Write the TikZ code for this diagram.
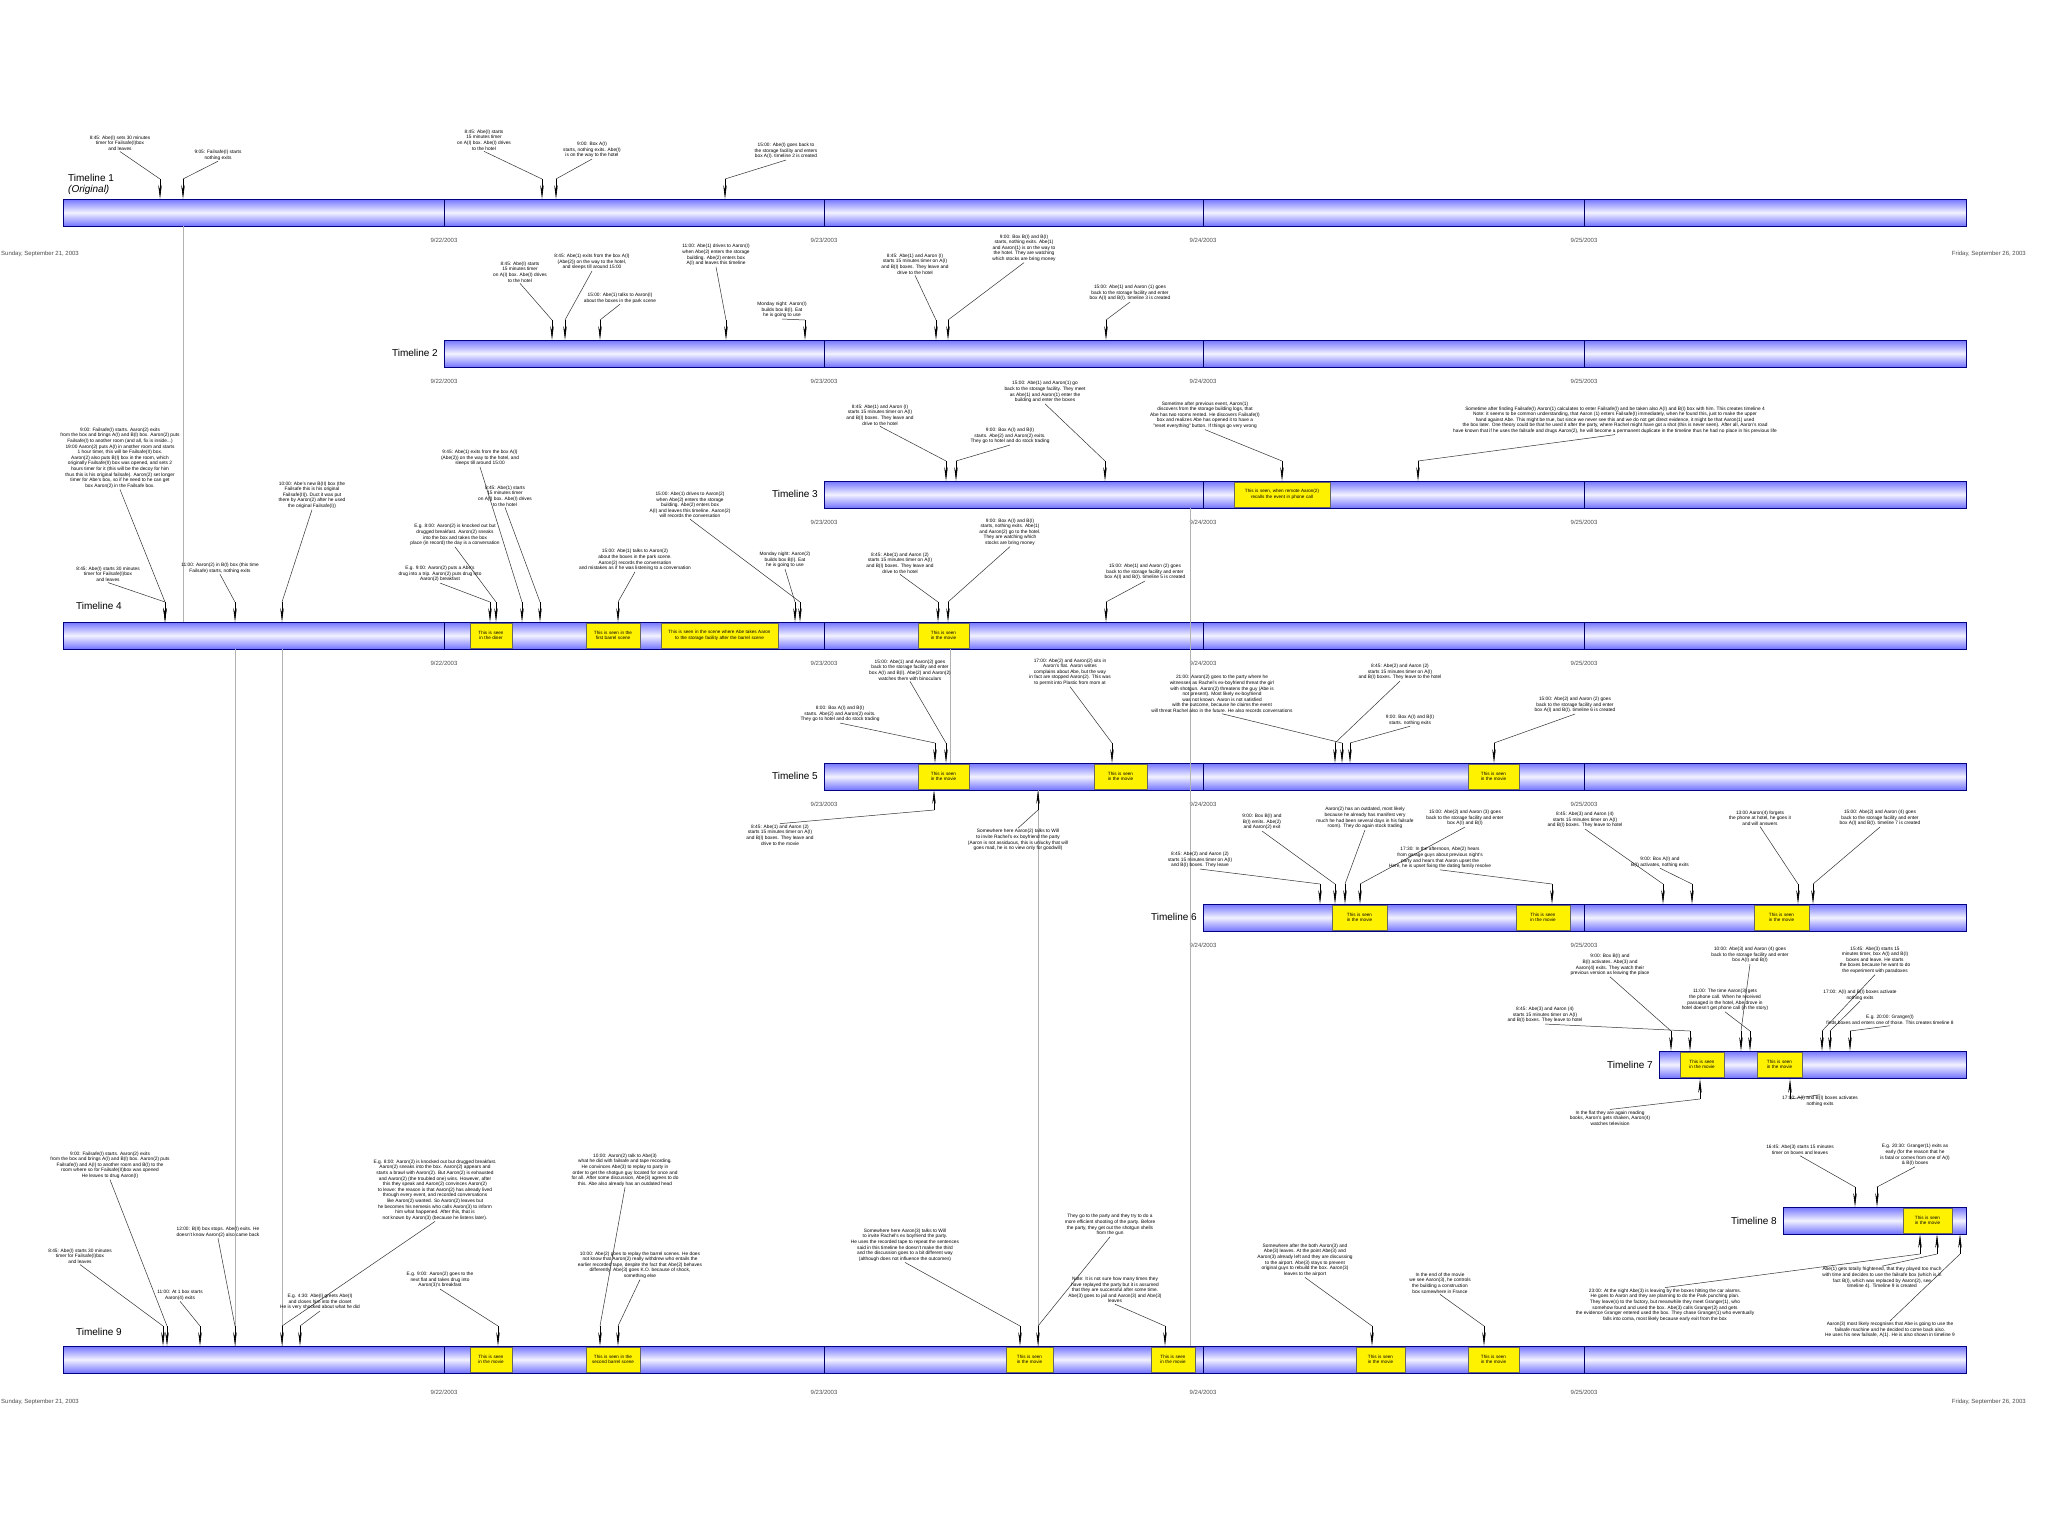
\documentclass[tikz,border=0pt]{standalone}
\usepackage{fontspec}
\setmainfont{Liberation Sans}
\usetikzlibrary{arrows.meta}
\begin{document}
\begin{tikzpicture}[x=1pt,y=-1pt,
  ann/.style={font=\fontsize{4.8}{5.6}\selectfont,align=center,inner sep=1pt},
  tlname/.style={font=\fontsize{10}{11}\selectfont,anchor=east,inner sep=2pt},
  datel/.style={font=\fontsize{6}{7}\selectfont,text=black!70,inner sep=1pt},
  seen/.style={draw=black!60,fill=yellow,font=\fontsize{4.6}{5.4}\selectfont,align=center,inner sep=0pt},
  lead/.style={draw=black!80,line width=0.5pt},
  tip/.style={-{Stealth[length=14pt,width=3.5pt]},line width=0.6pt},
  guide/.style={draw=black!30,line width=0.5pt}]
\useasboundingbox (0,0) rectangle (2048,1536);
\fill[white] (0,0) rectangle (2048,1536);
\newcommand{\tline}[3]{%
  \shade[top color=blue!55!white,bottom color=blue!55!white,middle color=blue!5!white]
    (#3,#2) rectangle (1966,#2+27);
  \draw[blue!50!black,line width=0.7pt] (#3,#2) rectangle (1966,#2+27);
  \coordinate (#1) at (#3,#2);
  \foreach \d in {444,824,1203,1584}{\ifdim\d pt>#3pt \draw[blue!40!black,line width=0.6pt] (\d,#2) -- (\d,#2+27);\fi}}
\newcommand{\seenbox}[5]{\pgfmathsetmacro\sbw{#3-#2}\pgfmathsetmacro\sbt{#3-#2-4}%
  \node[seen,minimum width=\sbw pt,minimum height=25pt,text width=\sbt pt] (#1) at ({(#2+#3)/2},#4+13.5) {#5};}
% ---------- timelines
\tline{t1}{199}{63}
\tline{t2}{340}{444}
\tline{t3}{481}{824}
\tline{t4}{622}{63}
\tline{t5}{763}{824}
\tline{t6}{904}{1203}
\tline{t7}{1051}{1659}
\tline{t8}{1207}{1783}
\tline{t9}{1346}{63}
\node[tlname,align=left,anchor=south west] (n1) at (66,197) {Timeline 1\\\textit{(Original)}};
\node[tlname] (n2) at (440,353) {Timeline 2};
\node[tlname] (n3) at (820,494) {Timeline 3};
\node[tlname] (n4) at (124,606) {Timeline 4};
\node[tlname] (n5) at (820,776) {Timeline 5};
\node[tlname] (n6) at (1199,917) {Timeline 6};
\node[tlname] (n7) at (1655,1065) {Timeline 7};
\node[tlname] (n8) at (1779,1221) {Timeline 8};
\node[tlname] (n9) at (124,1332) {Timeline 9};
% ---------- dates
\node[datel,anchor=west] (s1) at (0,254) {Sunday, September 21, 2003};
\node[datel,anchor=east] (f1) at (2027,254) {Friday, September 26, 2003};
\node[datel,anchor=west] (s9) at (0,1402) {Sunday, September 21, 2003};
\node[datel,anchor=east] (f9) at (2027,1402) {Friday, September 26, 2003};
\foreach \yy/\xs in {240/444,381/444,522/824,663/444,804/824,945/1203,1392/444}{
  \foreach \d/\t in {444/9\slash22\slash2003,824/9\slash23\slash2003,1203/9\slash24\slash2003,1584/9\slash25\slash2003}{
    \ifdim\d pt<\xs pt\else\node[datel] at (\d,\yy) {\t};\fi}}
% ---------- seen boxes
\seenbox{y3a}{1234}{1330}{481}{This is seen, when remote Aaron(2) recalls the event in phone call}
\seenbox{y4a}{470}{512}{622}{This is seen in the diner}
\seenbox{y4b}{586}{640}{622}{This is seen in the first barrel scene}
\seenbox{y4c}{661}{778}{622}{This is seen in the scene where Abe takes Aaron to the storage facility after the barrel scene}
\seenbox{y4d}{918}{969}{622}{This is seen in the movie}
\seenbox{y5a}{918}{969}{763}{This is seen in the movie}
\seenbox{y5b}{1094}{1147}{763}{This is seen in the movie}
\seenbox{y5c}{1468}{1519}{763}{This is seen in the movie}
\seenbox{y6a}{1332}{1387}{904}{This is seen in the movie}
\seenbox{y6b}{1516}{1570}{904}{This is seen in the movie}
\seenbox{y6c}{1754}{1809}{904}{This is seen in the movie}
\seenbox{y7a}{1680}{1724}{1051}{This is seen in the movie}
\seenbox{y7b}{1757}{1802}{1051}{This is seen in the movie}
\seenbox{y8a}{1903}{1952}{1207}{This is seen in the movie}
\seenbox{y9a}{470}{512}{1346}{This is seen in the movie}
\seenbox{y9b}{586}{640}{1346}{This is seen in the second barrel scene}
\seenbox{y9c}{1006}{1053}{1346}{This is seen in the movie}
\seenbox{y9d}{1151}{1195}{1346}{This is seen in the movie}
\seenbox{y9e}{1356}{1405}{1346}{This is seen in the movie}
\seenbox{y9f}{1468}{1519}{1346}{This is seen in the movie}
% ---------- guide lines between timelines
\draw[guide] (183,226) -- (183,622);
\draw[guide] (235,649) -- (235,1346);
\draw[guide] (282,649) -- (282,1346);
\draw[guide] (1038,790) -- (1038,1346);
\draw[guide] (1190,508) -- (1190,1346);
\draw[guide] (950,649) -- (950,763);
% ---------- annotations
\foreach \nm/\ax/\ay/\tx/\bt/\txt in {
 a1/120/143/160/199/{8:45: Abe(I) sets 30 minutes\\timer for Failsafe(I)box\\and leaves},
 a2/218/155/183/199/{9:05: Failsafe(I) starts\\nothing exits},
 a3/484/140/542/199/{8:45: Abe(I) starts\\15 minutes timer\\on A(I) box. Abe(I) drives\\to the hotel},
 a4/592/150/556/199/{9:00: Box A(I)\\starts, nothing exits. Abe(I)\\is on the way to the hotel},
 a5/786/151/725/199/{15:00: Abe(I) goes back to\\the storage facility and enters\\box A(I). timeline 2 is created},
 a6/520/272/552/340/{8:45: Abe(I) starts\\15 minutes timer\\on A(I) box. Abe(I) drives\\to the hotel},
 a7/592/262/565/340/{8:45: Abe(1) exits from the box A(I)\\(Abe(2)) on the way to the hotel,\\and sleeps till around 15:00},
 a8/620/298/600/340/{15:00: Abe(1) talks to Aaron(I)\\about the boxes in the park scene},
 a9/716/255/726/340/{11:00: Abe(1) drives to Aaron(I)\\when Abe(2) enters the storage\\building. Abe(2) enters box\\A(I) and leaves this timeline},
 a10/782/310/805/340/{Monday night: Aaron(I)\\builds box B(I). Eat\\he is going to use},
 a11/915/264/936/340/{8:45: Abe(1) and Aaron (I)\\starts 15 minutes timer on A(I)\\and B(I) boxes. They leave and\\drive to the hotel},
 a12/1024/248/948/340/{9:00: Box B(I) and B(I)\\starts, nothing exits. Abe(1)\\and Aaron(1) is on the way to\\the hotel. They are watching\\which stocks are bring money},
 a13/1130/293/1106/340/{15:00: Abe(1) and Aaron (1) goes\\back to the storage facility and enter\\box A(I) and B(I). timeline 3 is created},
 a14/880/415/946/481/{8:45: Abe(1) and Aaron (I)\\starts 15 minutes timer on A(I)\\and B(I) boxes. They leave and\\drive to the hotel},
 a15/1010/436/956/481/{9:00: Box A(I) and B(I)\\starts. Abe(2) and Aaron(2) exits.\\They go to hotel and do stock trading},
 a16/1045/392/1105/481/{15:00: Abe(1) and Aaron(1) go\\back to the storage facility. They meet\\as Abe(1) and Aaron(1) enter the\\building and enter the boxes},
 a17/1205/415/1282/481/{Sometime after previous event, Aaron(1)\\discovers from the storage building logs, that\\Abe has two rooms rented. He discovers Failsafe(I)\\box and realizes Abe has opened it to have a\\"reset everything" button. If things go very wrong},
 a18/1615/420/1418/481/{Sometime after finding Failsafe(I) Aaron(1) calculates to enter Failsafe(I) and be taken also A(I) and B(I) box with him. This creates timeline 4\\Note: it seems to be common understanding, that Aaron (1) enters Failsafe(I) immediately, when he found this, just to make the upper\\hand against Abe. This might be true, but since we never see this and we do not get direct evidence, it might be that Aaron(1) used\\the box later. One theory could be that he used it after the party, where Rachel might have got a shot (this is never seen). After all, Aaron's road\\have known that if he uses the failsafe and drugs Aaron(2), he will become a permanent duplicate in the timeline thus he had no place in his previous life},
 b1/120/458/165/622/{9:00: Failsafe(I) starts. Aaron(2) exits\\from the box and brings A(I) and B(I) box. Aaron(2) puts\\Failsafe(I) to another room (and all, fix is inside...)\\19:00 Aaron(2) puts A(I) in another room and starts\\1 hour timer, this will be Failsafe(II) box.\\Aaron(2) also puts B(I) box in the room, which\\originally Failsafe(II) box was opened, and sets 2\\hours timer for it (this will be the decoy for him\\thus this is his original failsafe). Aaron(2) set longer\\timer for Abe's box, so if he need to he can get\\box Aaron(2) in the Failsafe box.},
 b2/108/574/165/622/{8:45: Abe(I) starts 30 minutes\\timer for Failsafe(I)box\\and leaves},
 b3/220/568/235/622/{11:00: Aaron(2) in B(I) box (this time\\Failsafe) starts, nothing exits},
 b4/312/495/282/622/{10:00: Abe's new B(II) box (the\\Failsafe this is his original\\Failsafe(II)). Duct it was put\\there by Aaron(2) after he used\\the original Failsafe(I))},
 b5/480/458/522/622/{9:45: Abe(1) exits from the box A(I)\\(Abe(2)) on the way to the hotel, and\\sleeps till around 15:00},
 b6/505/496/540/622/{8:45: Abe(1) starts\\15 minutes timer\\on A(I) box. Abe(I) drives\\to the hotel},
 b7/455/535/496/622/{E.g. 8:00: Aaron(2) is knocked out but\\drugged breakfast. Aaron(2) sneaks\\into the box and takes the box\\place (in record) the day is a conversation},
 b8/440/574/490/622/{E.g. 9:00: Aaron(2) puts a Abe's\\drug into a trip. Aaron(2) puts drug into\\Aaron(2) breakfast},
 b9/690/505/800/622/{15:00: Abe(1) drives to Aaron(2)\\when Abe(2) enters the storage\\building. Abe(2) enters box\\A(I) and leaves this timeline. Aaron(2)\\will records the conversation},
 b10/635/560/618/622/{15:00: Abe(1) talks to Aaron(2)\\about the boxes in the park scene.\\Aaron(2) records the conversation\\and mistakes as if he was listening to a conversation},
 b11/785/560/795/622/{Monday night: Aaron(2)\\builds box B(I). Eat\\he is going to use},
 b12/900/563/938/622/{8:45: Abe(1) and Aaron (2)\\starts 15 minutes timer on A(I)\\and B(I) boxes. They leave and\\drive to the hotel},
 b13/1010/532/948/622/{9:00: Box A(I) and B(I)\\starts, nothing exits. Abe(1)\\and Aaron(2) go to the hotel.\\They are watching which\\stocks are bring money},
 b14/1145/572/1106/622/{15:00: Abe(1) and Aaron (2) goes\\back to the storage facility and enter\\box A(I) and B(I). timeline 5 is created},
 c1/910/670/946/763/{15:00: Abe(1) and Aaron(2) goes\\back to the storage facility and enter\\box A(I) and B(I). Abe(2) and Aaron(2)\\watches them with binoculars},
 c2/840/714/935/763/{8:00: Box A(I) and B(I)\\starts. Abe(2) and Aaron(2) exits.\\They go to hotel and do stock trading},
 c3/1070/672/1112/763/{17:00: Abe(2) and Aaron(2) sits in\\Aaron's flat. Aaron writes\\complains about Abe, but the way\\in fact are stopped Aaron(2). This was\\to permit into Plastic from mom at},
 c4/1222/694/1342/763/{21:00: Aaron(2) goes to the party where he\\witnesses as Rachel's ex-boyfriend threat the girl\\with shotgun. Aaron(2) threatens the guy (Abe is\\not present). Most likely ex-boyfriend\\was not known. Aaron is not satisfied\\with the outcome, because he claims the event\\will threat Rachel also in the future. He also records conversations},
 c5/1400/672/1335/763/{8:45: Abe(2) and Aaron (2)\\starts 15 minutes timer on A(I)\\and B(I) boxes. They leave to the hotel},
 c6/1410/720/1350/763/{9:00: Box A(I) and B(I)\\starts. nothing exits},
 c7/1575/705/1494/763/{15:00: Abe(2) and Aaron (2) goes\\back to the storage facility and enter\\box A(I) and B(I). timeline 6 is created},
 c8/780/835/934/790/{8:45: Abe(1) and Aaron (2)\\starts 15 minutes timer on A(I)\\and B(I) boxes. They leave and\\drive to the movie},
 c9/1018/840/1038/790/{Somewhere here Aaron(2) talks to Will\\to invite Rachel's ex boyfriend the party\\(Aaron is not assiduous, this is unlucky that will\\goes mad, he is no view only for goodwill)},
 d1/1200/860/1320/904/{8:45: Abe(2) and Aaron (2)\\starts 15 minutes timer on A(I)\\and B(I) boxes. They leave},
 d2/1262/822/1335/904/{9:00: Box B(I) and\\B(I) emits. Abe(2)\\and Aaron(2) exit},
 d3/1365/818/1345/904/{Aaron(2) has an outdated, most likely\\because he already has manifest very\\much he had been several days in his failsafe\\room). They do again stock trading},
 d4/1465/818/1360/904/{15:00: Abe(2) and Aaron (3) goes\\back to the storage facility and enter\\box A(I) and B(I)},
 d5/1440/858/1552/904/{17:30: In the afternoon, Abe(2) hears\\from garage guys about previous night's\\party and hears that Aaron upset the\\Here, he is upset fixing the dating family resolve},
 d6/1585/820/1663/904/{8:45: Abe(3) and Aaron (4)\\starts 15 minutes timer on A(I)\\and B(I) boxes. They leave to hotel},
 d7/1660/862/1692/904/{9:00: Box A(I) and\\B(I) activates, nothing exits},
 d8/1760/818/1798/904/{13:00 Aaron(4) forgets\\the phone at hotel, he goes it\\and will answers},
 d9/1880/818/1813/904/{15:00: Abe(2) and Aaron (4) goes\\back to the storage facility and enter\\box A(I) and B(I). timeline 7 is created},
 e1/1610/965/1671/1051/{9:00: Box B(I) and\\B(I) activates. Abe(3) and\\Aaron(4) exits. They watch their\\previous version as leaving the place},
 e2/1545/1015/1690/1051/{8:45: Abe(3) and Aaron (4)\\starts 15 minutes timer on A(I)\\and B(I) boxes. They leave to hotel},
 e3/1750/955/1741/1051/{10:00: Abe(3) and Aaron (4) goes\\back to the storage facility and enter\\box A(I) and B(I)},
 e4/1725/1000/1750/1051/{11:00: The time Aaron(3) gets\\the phone call. When he received\\passaged in the hotel, Abe drove in\\hotel doesn't get phone call (in the story)},
 e5/1875/960/1822/1051/{15:45: Abe(3) starts 15\\minutes timer, box A(I) and B(I)\\boxes and leave. He starts\\the boxes because he want to do\\the experiment with paradoxes},
 e6/1860/995/1830/1051/{17:00: A(I) and B(I) boxes activate\\nothing exits},
 e7/1890/1020/1850/1051/{E.g. 20:00: Granger(I)\\finds boxes and enters one of those. This creates timeline 8},
 e8/1610/1118/1700/1079/{In the flat they are again reading\\books, Aaron's gets shaken, Aaron(4)\\watches television},
 e9/1820/1101/1790/1079/{17:00: A(I) and B(I) boxes activates\\nothing exits},
 f1/1800/1150/1855/1207/{16:45: Abe(3) starts 15 minutes\\timer on boxes and leaves},
 f2/1915/1155/1877/1207/{E.g. 20:30: Granger(1) exits as\\early (for the reason that he\\is fatal or comes from one of A(I)\\\& B(I) boxes},
 g1/110/1165/167/1346/{9:00: Failsafe(I) starts. Aaron(2) exits\\from the box and brings A(I) and B(I) box. Aaron(2) puts\\Failsafe(I) and A(I) to another room and B(I) to the\\room where so for Failsafe(II)box was opened\\He leaves to drug Aaron(I)},
 g2/80/1256/163/1346/{8:45: Abe(I) starts 30 minutes\\timer for Failsafe(I)box\\and leaves},
 g3/218/1232/235/1346/{12:00: B(II) box stops. Abe(I) exits. He\\doesn't know Aaron(2) also came back},
 g4/180/1295/200/1346/{11:00: At 1 box starts\\Aaron(4) exits},
 g5/435/1190/282/1346/{E.g. 8:00: Aaron(2) is knocked out but drugged breakfast.\\Aaron(2) sneaks into the box. Aaron(2) appears and\\starts a brawl with Aaron(2). But Aaron(2) is exhausted\\and Aaron(2) (the troubled one) wins. However, after\\this they speak and Aaron(2) convinces Aaron(2)\\to leave: the reason is that Aaron(2) has already lived\\through every event, and recorded conversations\\like Aaron(2) wanted. So Aaron(2) leaves but\\he becomes his nemesis who calls Aaron(3) to inform\\him what happened. After this, that is\\not known by Aaron(3) (because he listens later).},
 g6/320/1302/300/1346/{E.g. 4:30: Abe(I) greets Abe(I)\\and closes him into the closet\\He is very shocked about what he did},
 g7/440/1280/498/1346/{E.g. 9:00: Aaron(2) goes to the\\next flat and takes drug into\\Aaron(3)'s breakfast},
 g8/625/1170/600/1346/{10:00: Aaron(2) talk to Abe(3)\\what he did with failsafe and tape recording.\\He convinces Abe(3) to replay to party in\\order to get the shotgun guy located for once and\\for all. After some discussion, Abe(3) agrees to do\\this. Abe also already has an outdated head},
 g9/640/1265/618/1346/{10:00: Abe(2) goes to replay the barrel scenes. He does\\not know that Aaron(2) really withdrew who entails the\\earlier recorded tape, despite the fact that Abe(2) behaves\\differently. Abe(3) goes K.O. because of shock,\\something else},
 g10/905/1245/1020/1346/{Somewhere here Aaron(3) talks to Will\\to invite Rachel's ex boyfriend the party.\\He uses the recorded tape to repeat the sentences\\said in this timeline he doesn't make the third\\and the discussion goes to a bit different way\\(although does not influence the outcomes)},
 g11/1110/1225/1038/1346/{They go to the party and they try to do a\\more efficient shooting of the party. Before\\the party, they get out the shotgun shells\\from the gun},
 g12/1115/1290/1165/1346/{Note: It is not sure how many times they\\have replayed the party but it is assumed\\that they are successful after some time.\\Abe(3) goes to jail and Aaron(3) and Abe(3)\\leaves},
 g13/1305/1260/1372/1346/{Somewhere after the both Aaron(3) and\\Abe(3) leaves. At the point Abe(3) and\\Aaron(3) already left and they are discussing\\to the airport. Abe(3) stays to prevent\\original guys to rebuild the box. Aaron(3)\\leaves to the airport},
 g14/1440/1283/1484/1346/{In the end of the movie\\we see Aaron(3), he controls\\the building a construction\\box somewhere in France},
 g15/1665/1305/1920/1234/{23:00: At the night Abe(3) is leaving by the boxes hitting the car alarms.\\He goes to Aaron and they are planning to do the Park punching plan.\\They leave(s) to the factory, but meanwhile they meet Granger(1), who\\somehow found and used the box. Abe(3) calls Granger(2) and gets\\the evidence Granger entered used the box. They chase Granger(1) who eventually\\falls into coma, most likely because early exit from the box},
 g16/1882/1278/1937/1234/{Abe(1) gets totally frightened, that they played too much\\with time and decides to use the failsafe box (which is in\\fact B(I), which was replaced by Aaron(2), see\\timeline 4). Timeline 9 is created},
 g17/1890/1330/1960/1234/{Aaron(3) most likely recognises that Abe is going to use the\\failsafe machine and he decided to come back also.\\He uses his new failsafe, A(1). He is also shown in timeline 9}}
{
  \node[ann] (\nm) at (\ax,\ay) {\txt};
  \ifdim\ay pt>\bt pt
    \draw[lead] (\nm.north) -- (\tx,\bt+20);
    \draw[tip] (\tx,\bt+20) -- (\tx,\bt);
  \else
    \draw[lead] (\nm.south) -- (\tx,\bt-20);
    \draw[tip] (\tx,\bt-20) -- (\tx,\bt);
  \fi
}
\end{tikzpicture}
\end{document}
